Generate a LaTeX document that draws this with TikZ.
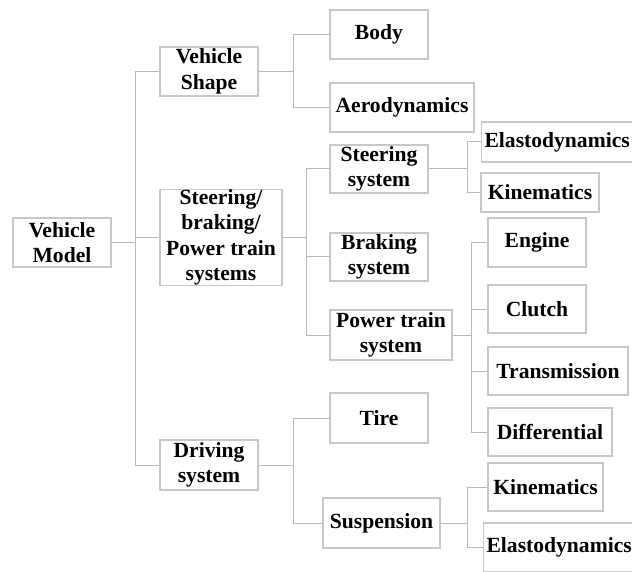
\documentclass[tikz,border=0pt]{standalone}
\usepackage{fontspec}
\setmainfont{Liberation Serif}
\definecolor{boxgray}{RGB}{200,200,200}
\definecolor{linegray}{RGB}{185,185,185}
\begin{document}
\begin{tikzpicture}[x=1pt,y=-1pt,
  box/.style={draw=boxgray, line width=1.1pt, inner sep=0pt, align=center,
    font=\fontsize{21.6}{25.5}\selectfont\bfseries, text=black},
  wide/.style={box, align=left, text width=150pt, inner xsep=3pt, anchor=west},
  link/.style={draw=linegray, line width=1pt}]
\clip (0,0) rectangle (632,572);
\fill[white] (0,0) rectangle (632,572);
% level 0
\node[box, minimum width=98pt, minimum height=49pt] (vm) at (62,242.5) {Vehicle\\Model};
% level 1
\node[box, minimum width=98pt, minimum height=49pt] (vs) at (209,71.5) {Vehicle\\Shape};
\node[box, minimum width=122pt, minimum height=89pt] (sbp) at (221,237.5) {Steering/\\braking/\\Power train\\systems};
\node[box, minimum width=98pt, minimum height=50pt] (ds) at (209,465) {Driving\\system};
% level 2
\node[box, minimum width=98pt, minimum height=49pt] (body) at (379,34.5) {Body};
\node[box, minimum width=144pt, minimum height=49pt] (aero) at (402,107.5) {Aerodynamics};
\node[box, minimum width=98pt, minimum height=48pt] (ss) at (379,169) {Steering\\system};
\node[box, minimum width=98pt, minimum height=48pt] (bs) at (379,257) {Braking\\system};
\node[box, minimum width=122pt, minimum height=50pt] (pts) at (391,335) {Power train\\system};
\node[box, minimum width=98pt, minimum height=50pt] (tire) at (379,418) {Tire};
\node[box, minimum width=117pt, minimum height=50pt] (susp) at (381.5,523) {Suspension};
% level 3
\node[wide, minimum height=40pt] (el1) at (481,142) {Elastodynamics};
\node[box, minimum width=118pt, minimum height=39pt] (kin1) at (540,192.5) {Kinematics};
\node[box, minimum width=98pt, minimum height=49pt] (engine) at (537,242.5) {Engine};
\node[box, minimum width=98pt, minimum height=48pt] (clutch) at (537,309) {Clutch};
\node[box, minimum width=140pt, minimum height=48pt] (trans) at (558,371) {Transmission};
\node[box, minimum width=124pt, minimum height=48pt] (diff) at (550,432) {Differential};
\node[box, minimum width=115pt, minimum height=48pt] (kin2) at (545.5,487) {Kinematics};
\node[wide, minimum height=49pt] (el2) at (483,547.5) {Elastodynamics};
% branch coordinates
\coordinate (t0) at (135,0);
\coordinate (t1) at (293,0);
\coordinate (t2) at (306,0);
\coordinate (t3) at (467,0);
\coordinate (t4) at (471,0);
\coordinate (t5) at (293,0);
\coordinate (t6) at (467,0);
% connectors
\draw[link] (vm.east) -- (vm.east -| t0);
\draw[link] (vs.west) -| (t0 |- ds.west) -- (ds.west);
\draw[link] (sbp.west) -- (sbp.west -| t0);
\draw[link] (vs.east) -- (vs.east -| t1);
\draw[link] (body.west) -| (t1 |- aero.west) -- (aero.west);
\draw[link] (sbp.east) -- (sbp.east -| t2);
\draw[link] (ss.west) -| (t2 |- pts.west) -- (pts.west);
\draw[link] (bs.west) -- (bs.west -| t2);
\draw[link] (ss.east) -- (ss.east -| t3);
\draw[link] (el1.west) -| (t3 |- kin1.west) -- (kin1.west);
\draw[link] (pts.east) -- (pts.east -| t4);
\draw[link] (engine.west) -| (t4 |- diff.west) -- (diff.west);
\draw[link] (clutch.west) -- (clutch.west -| t4);
\draw[link] (trans.west) -- (trans.west -| t4);
\draw[link] (ds.east) -- (ds.east -| t5);
\draw[link] (tire.west) -| (t5 |- susp.west) -- (susp.west);
\draw[link] (susp.east) -- (susp.east -| t6);
\draw[link] (kin2.west) -| (t6 |- el2.west) -- (el2.west);
\end{tikzpicture}
\end{document}
